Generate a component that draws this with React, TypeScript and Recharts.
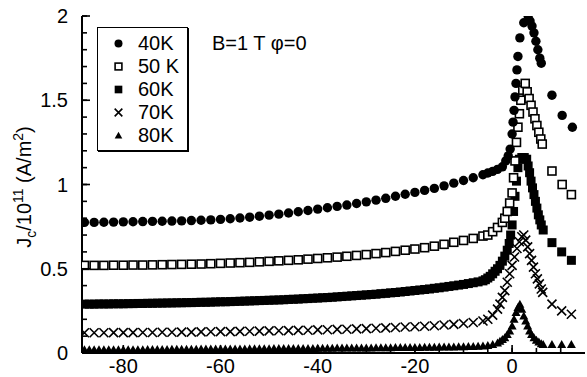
import React from 'react';
import { ScatterChart, Scatter, XAxis, YAxis, Legend } from 'recharts';

const FONT = '"Liberation Sans", Arial, Helvetica, sans-serif';

// angle (deg) grids
const anglesCoarse = [
  -88, -86, -84, -82, -80, -78, -76, -74, -72, -70, -68, -66, -64, -62, -60, -58, -56, -54, -52, -50, -48,
  -46, -44, -42, -40, -38, -36, -34, -32, -30, -28, -26, -24, -22, -20, -18, -16, -14, -12, -10, -8, -6,
];
const anglesFine = [
  -88, -87, -86, -85, -84, -83, -82, -81, -80, -79, -78, -77, -76, -75, -74, -73, -72, -71, -70, -69,
  -68, -67, -66, -65, -64, -63, -62, -61, -60, -59, -58, -57, -56, -55, -54, -53, -52, -51, -50, -49,
  -48, -47, -46, -45, -44, -43, -42, -41, -40, -39, -38, -37, -36, -35, -34, -33, -32, -31, -30, -29,
  -28, -27, -26, -25, -24, -23, -22, -21, -20, -19, -18, -17, -16, -15, -14, -13, -12, -11, -10, -9,
  -8, -7, -6,
];

// 40K
const jc40Left = [
  0.775, 0.775, 0.776, 0.777, 0.778, 0.779, 0.78, 0.781, 0.782, 0.783, 0.784, 0.786, 0.788, 0.79, 0.793,
  0.797, 0.801, 0.806, 0.812, 0.818, 0.824, 0.831, 0.838, 0.846, 0.854, 0.862, 0.87, 0.878, 0.887, 0.897,
  0.907, 0.918, 0.93, 0.942, 0.953, 0.965, 0.977, 0.992, 1.008, 1.024, 1.04, 1.058,
];
const peakAngles40 = [-5, -4, -3, -2, -1.3, -0.8, -0.4, 0, 0.2, 0.4, 0.6, 0.8, 1.0, 1.2, 1.6, 2.4, 3.3, 3.7, 4.1, 4.5, 4.9, 5.3, 5.7, 6.0, 8.2, 10.3, 12.4];
const peakJc40 = [1.068, 1.078, 1.09, 1.105, 1.14, 1.17, 1.21, 1.3, 1.37, 1.44, 1.52, 1.6, 1.68, 1.76, 1.87, 1.96, 2.0, 1.97, 1.94, 1.9, 1.85, 1.8, 1.75, 1.72, 1.53, 1.41, 1.34];

// 50K
const jc50Left = [
  0.52, 0.52, 0.52, 0.521, 0.521, 0.522, 0.522, 0.523, 0.524, 0.525, 0.526, 0.527, 0.528, 0.53, 0.532,
  0.534, 0.536, 0.538, 0.541, 0.544, 0.547, 0.55, 0.553, 0.557, 0.561, 0.565, 0.569, 0.574, 0.579, 0.584,
  0.59, 0.596, 0.603, 0.61, 0.617, 0.625, 0.634, 0.645, 0.657, 0.668, 0.68, 0.694,
];
const peakAngles50 = [-5, -4, -3, -2, -1.5, -1, -0.5, 0, 0.3, 0.6, 0.9, 1.2, 1.5, 1.8, 2.2, 2.7, 3.1, 3.5, 3.9, 4.3, 4.7, 5.1, 5.5, 5.9, 6.2, 8.2, 10.3, 12.2];
const peakJc50 = [0.7, 0.72, 0.745, 0.775, 0.8, 0.84, 0.89, 0.95, 1.04, 1.14, 1.25, 1.34, 1.42, 1.5, 1.56, 1.6, 1.55, 1.51, 1.47, 1.43, 1.39, 1.35, 1.31, 1.27, 1.24, 1.08, 1.0, 0.94];

// 60K
const jc60Left = [
  0.29, 0.29, 0.29, 0.291, 0.291, 0.291, 0.292, 0.292, 0.292, 0.293,
  0.293, 0.294, 0.294, 0.295, 0.295, 0.296, 0.296, 0.297, 0.297, 0.298,
  0.298, 0.299, 0.299, 0.3, 0.301, 0.301, 0.302, 0.303, 0.304, 0.304,
  0.305, 0.306, 0.307, 0.308, 0.309, 0.31, 0.311, 0.312, 0.313, 0.314,
  0.315, 0.316, 0.318, 0.319, 0.32, 0.322, 0.323, 0.325, 0.326, 0.328,
  0.329, 0.331, 0.333, 0.335, 0.337, 0.339, 0.341, 0.343, 0.345, 0.347,
  0.349, 0.352, 0.354, 0.357, 0.359, 0.362, 0.365, 0.368, 0.371, 0.374,
  0.377, 0.38, 0.384, 0.387, 0.391, 0.395, 0.399, 0.403, 0.407, 0.412,
  0.417, 0.422, 0.428,
];
const peakAngles60 = [-5.5, -5, -4.5, -4, -3.5, -3, -2.5, -2, -1.5, -1, -0.6, -0.3, 0, 0.3, 0.6, 0.9, 1.2, 1.5, 2.0, 2.5, 3.0, 3.3, 3.6, 3.9, 4.2, 4.5, 4.8, 5.1, 5.4, 5.7, 6.0, 6.4, 8.2, 10.2, 12.2];
const peakJc60 = [0.435, 0.445, 0.455, 0.47, 0.485, 0.5, 0.52, 0.545, 0.575, 0.61, 0.65, 0.7, 0.76, 0.84, 0.93, 1.02, 1.1, 1.15, 1.16, 1.16, 1.15, 1.11, 1.07, 1.02, 0.98, 0.94, 0.9, 0.86, 0.82, 0.79, 0.76, 0.73, 0.655, 0.6, 0.55];

// 70K
const jc70Left = [
  0.12, 0.12, 0.12, 0.121, 0.121, 0.121, 0.122, 0.122, 0.123, 0.123,
  0.124, 0.124, 0.125, 0.126, 0.127, 0.127, 0.128, 0.129, 0.13, 0.131,
  0.132, 0.133, 0.134, 0.135, 0.137, 0.138, 0.14, 0.141, 0.143, 0.145,
  0.147, 0.149, 0.151, 0.154, 0.156, 0.159, 0.162, 0.166, 0.17, 0.175,
  0.181, 0.19,
];
const peakAngles70 = [-5, -4, -3, -2.5, -2, -1.5, -1, -0.5, 0, 0.5, 1.0, 1.5, 2.0, 2.4, 2.8, 3.2, 3.6, 4.0, 4.4, 4.8, 5.2, 5.6, 6.0, 6.3, 8.2, 10.2, 12.2];
const peakJc70 = [0.2, 0.225, 0.26, 0.29, 0.33, 0.37, 0.42, 0.47, 0.52, 0.57, 0.62, 0.66, 0.69, 0.7, 0.67, 0.63, 0.59, 0.55, 0.51, 0.47, 0.44, 0.41, 0.38, 0.36, 0.29, 0.25, 0.23];

// 80K
const jc80Left = [
  0.02, 0.02, 0.02, 0.02, 0.02, 0.02, 0.02, 0.02, 0.02, 0.02,
  0.02, 0.02, 0.02, 0.021, 0.021, 0.021, 0.021, 0.021, 0.022, 0.022,
  0.022, 0.022, 0.022, 0.022, 0.023, 0.023, 0.023, 0.023, 0.023, 0.024,
  0.024, 0.024, 0.024, 0.024, 0.025, 0.025, 0.025, 0.025, 0.025, 0.026,
  0.026, 0.026, 0.026, 0.026, 0.027, 0.027, 0.027, 0.027, 0.028, 0.028,
  0.028, 0.028, 0.029, 0.029, 0.029, 0.029, 0.03, 0.03, 0.03, 0.03,
  0.031, 0.031, 0.031, 0.031, 0.032, 0.032, 0.032, 0.033, 0.033, 0.033,
  0.034, 0.034, 0.034, 0.035, 0.035, 0.036, 0.036, 0.037, 0.037, 0.038,
  0.039, 0.04, 0.041,
];
const peakAngles80 = [-5, -4, -3, -2.5, -2, -1.5, -1, -0.5, 0, 0.4, 0.8, 1.2, 1.6, 2.0, 2.4, 2.8, 3.2, 3.6, 4.0, 4.5, 5.0, 5.5, 6.0, 6.4, 8.2, 10.2, 12.2];
const peakJc80 = [0.045, 0.05, 0.06, 0.07, 0.08, 0.09, 0.11, 0.13, 0.16, 0.2, 0.24, 0.27, 0.29, 0.26, 0.22, 0.19, 0.16, 0.13, 0.11, 0.09, 0.075, 0.065, 0.055, 0.05, 0.05, 0.05, 0.05];

const xTicks = [-85, -80, -75, -70, -65, -60, -55, -50, -45, -40, -35, -30, -25, -20, -15, -10, -5, 0, 5, 10];
const yTicks = [0, 0.1, 0.2, 0.3, 0.4, 0.5, 0.6, 0.7, 0.8, 0.9, 1, 1.1, 1.2, 1.3, 1.4, 1.5, 1.6, 1.7, 1.8, 1.9, 2];

const zip = (xs: number[], ys: number[]) => xs.map((x, i) => ({ x, y: ys[i] }));

type Kind = 'circle' | 'openSquare' | 'square' | 'cross' | 'triangle';

const series: { name: string; kind: Kind; data: { x: number; y: number }[] }[] = [
  { name: '80K', kind: 'triangle', data: [...zip(anglesFine, jc80Left), ...zip(peakAngles80, peakJc80)] },
  { name: '60K', kind: 'square', data: [...zip(anglesFine, jc60Left), ...zip(peakAngles60, peakJc60)] },
  { name: '70K', kind: 'cross', data: [...zip(anglesCoarse, jc70Left), ...zip(peakAngles70, peakJc70)] },
  { name: '50 K', kind: 'openSquare', data: [...zip(anglesCoarse, jc50Left), ...zip(peakAngles50, peakJc50)] },
  { name: '40K', kind: 'circle', data: [...zip(anglesCoarse, jc40Left), ...zip(peakAngles40, peakJc40)] },
];
const legendOrder = ['40K', '50 K', '60K', '70K', '80K'];

function Marker({ kind, cx, cy, s = 1 }: { kind: Kind; cx: number; cy: number; s?: number }) {
  switch (kind) {
    case 'circle':
      return <circle cx={cx} cy={cy} r={4.7 * s} fill="#000" />;
    case 'openSquare':
      return <rect x={cx - 4 * s} y={cy - 4 * s} width={8 * s} height={8 * s} fill="#fff" stroke="#000" strokeWidth={1.6} />;
    case 'square':
      return <rect x={cx - 4.5 * s} y={cy - 4.5 * s} width={9 * s} height={9 * s} fill="#000" />;
    case 'cross':
      return (
        <path
          d={`M${cx - 4.5 * s},${cy - 4.5 * s}L${cx + 4.5 * s},${cy + 4.5 * s}M${cx - 4.5 * s},${cy + 4.5 * s}L${cx + 4.5 * s},${cy - 4.5 * s}`}
          stroke="#000"
          strokeWidth={1.6}
          fill="none"
        />
      );
    default:
      return <path d={`M${cx},${cy - 4.5 * s}L${cx + 4.5 * s},${cy + 3.5 * s}L${cx - 4.5 * s},${cy + 3.5 * s}Z`} fill="#000" />;
  }
}

const MINOR = 5;
const MAJOR = 8;
const isMajorX = (v: number) => Math.abs(v % 20) < 1e-6;
const isMajorY = (v: number) => Math.abs(v * 2 - Math.round(v * 2)) < 1e-6;

// recharts draws the short inward tick line (negative tickSize);
// these add the longer stub on majors and the labels
function BottomTick({ x, y, payload }: any) {
  if (!isMajorX(payload.value)) return <g />;
  const y0 = y + MINOR;
  return (
    <g>
      <rect x={x - 0.8} y={y0 - MAJOR} width={1.6} height={MAJOR} fill="#000" />
      <text x={x} y={y0 + 20} textAnchor="middle" fontSize={20} fontFamily={FONT} fill="#000">
        {payload.value}
      </text>
    </g>
  );
}

function TopTick({ x, y, payload }: any) {
  if (!isMajorX(payload.value)) return <g />;
  const y0 = y - MINOR;
  return <rect x={x - 0.8} y={y0} width={1.6} height={MAJOR} fill="#000" />;
}

function LeftTick({ x, y, payload }: any) {
  if (!isMajorY(payload.value)) return <g />;
  const x0 = x - MINOR;
  return (
    <g>
      <rect x={x0} y={y - 0.8} width={MAJOR} height={1.6} fill="#000" />
      <text x={x0 - 14} y={y + 7} textAnchor="end" fontSize={20} fontFamily={FONT} fill="#000">
        {String(payload.value)}
      </text>
    </g>
  );
}

function RightTick({ x, y, payload }: any) {
  if (!isMajorY(payload.value)) return <g />;
  const x0 = x + MINOR;
  return <rect x={x0 - MAJOR} y={y - 0.8} width={MAJOR} height={1.6} fill="#000" />;
}

function YTitle() {
  return (
    <text transform="translate(31,187) rotate(-90)" textAnchor="middle" fontSize={20} fontFamily={FONT} fill="#000">
      J<tspan fontSize={14} dy={5}>c</tspan>
      <tspan dy={-5}>/10</tspan>
      <tspan fontSize={14} dy={-8}>11</tspan>
      <tspan dy={8}> (A/m</tspan>
      <tspan fontSize={14} dy={-8}>2</tspan>
      <tspan dy={8}>)</tspan>
    </text>
  );
}

function LegendBox() {
  return (
    <div
      style={{
        position: 'relative',
        width: 91,
        height: 124,
        boxSizing: 'border-box',
        border: '1.5px solid #000',
        boxShadow: '1px 1px 0 #000',
        background: '#fff',
        fontFamily: FONT,
        fontSize: 20,
        color: '#000',
        paddingTop: 4,
      }}
    >
      {legendOrder.map((name) => {
        const s = series.find((d) => d.name === name)!;
        return (
          <div key={name} style={{ display: 'flex', alignItems: 'center', height: 23 }}>
            <svg width={40} height={23} style={{ display: 'block' }}>
              <Marker kind={s.kind} cx={20.5} cy={11.5} s={0.85} />
            </svg>
            <span style={{ lineHeight: '23px', whiteSpace: 'nowrap' }}>{name}</span>
          </div>
        );
      })}
      <div style={{ position: 'absolute', left: 114, top: 3, lineHeight: '24px', whiteSpace: 'nowrap' }}>
        B=1 T φ=0
      </div>
    </div>
  );
}

const axisLine = { stroke: '#000', strokeWidth: 2 };
const tickLine = { stroke: '#000', strokeWidth: 1.6 };

export default function App() {
  return (
    <div style={{ position: 'absolute', left: 0, top: 0, background: '#fff' }}>
      <ScatterChart width={587} height={377} margin={{ top: 16, right: 2, bottom: 0, left: 0 }}>
        <XAxis
          xAxisId="bottom"
          type="number"
          dataKey="x"
          domain={[-88.5, 15]}
          allowDataOverflow
          ticks={xTicks}
          interval={0}
          tickSize={-MINOR}
          tickMargin={0}
          tickLine={tickLine}
          tick={(p: any) => <BottomTick {...p} />}
          axisLine={axisLine}
          height={24}
        />
        <XAxis
          xAxisId="top"
          orientation="top"
          type="number"
          domain={[-88.5, 15]}
          allowDataOverflow
          ticks={xTicks}
          interval={0}
          tickSize={-MINOR}
          tickMargin={0}
          tickLine={tickLine}
          tick={(p: any) => <TopTick {...p} />}
          axisLine={axisLine}
          height={0}
        />
        <YAxis
          yAxisId="left"
          type="number"
          dataKey="y"
          domain={[0, 2]}
          allowDataOverflow
          ticks={yTicks}
          interval={0}
          tickSize={-MINOR}
          tickMargin={0}
          tickLine={tickLine}
          tick={(p: any) => <LeftTick {...p} />}
          axisLine={axisLine}
          width={82}
          label={<YTitle />}
        />
        <YAxis
          yAxisId="right"
          orientation="right"
          type="number"
          domain={[0, 2]}
          allowDataOverflow
          ticks={yTicks}
          interval={0}
          tickSize={-MINOR}
          tickMargin={0}
          tickLine={tickLine}
          tick={(p: any) => <RightTick {...p} />}
          axisLine={axisLine}
          width={0}
        />
        <Legend
          layout="vertical"
          align="center"
          verticalAlign="middle"
          wrapperStyle={{ left: 97, top: 27, width: 91, height: 124 }}
          content={() => <LegendBox />}
        />
        {series.map((s) => (
          <Scatter
            key={s.name}
            name={s.name}
            xAxisId="bottom"
            yAxisId="left"
            data={s.data}
            isAnimationActive={false}
            shape={(p: any) => <Marker kind={s.kind} cx={p.cx} cy={p.cy} />}
          />
        ))}
      </ScatterChart>
    </div>
  );
}
